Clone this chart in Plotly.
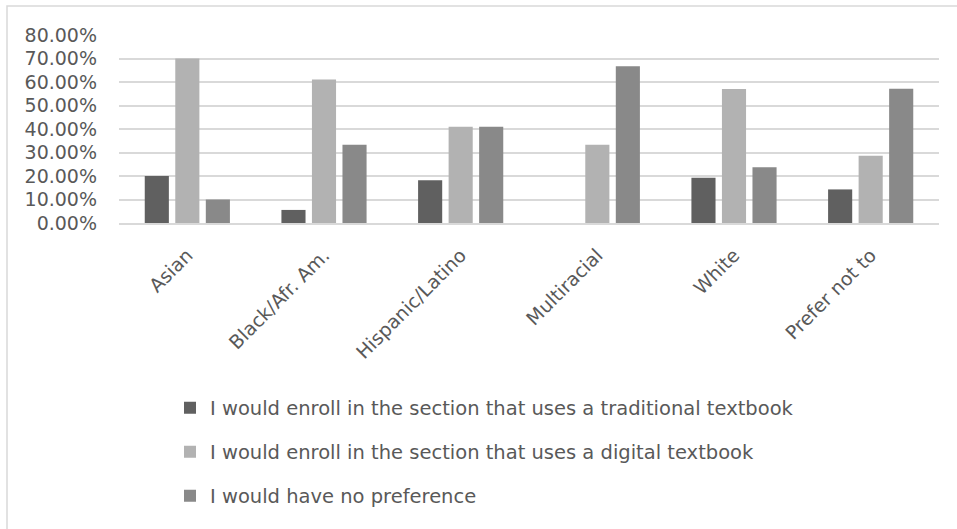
import plotly.graph_objects as go

# Share of respondents in each group choosing each textbook option
categories = ["Asian", "Black/Afr. Am.", "Hispanic/Latino", "Multiracial", "White", "Prefer not to"]
traditional = [20.00, 5.56, 18.18, 0.00, 19.30, 14.29]
digital = [70.00, 61.11, 40.91, 33.33, 57.00, 28.57]
no_preference = [10.00, 33.33, 40.91, 66.67, 23.70, 57.14]

series_names = [
    "I would enroll in the section that uses a traditional textbook",
    "I would enroll in the section that uses a digital textbook",
    "I would have no preference",
]
series_values = [traditional, digital, no_preference]
series_colors = ["#606060", "#b2b2b2", "#898989"]
legend_ids = ["legend", "legend2", "legend3"]

y_ticks = [0, 10, 20, 30, 40, 50, 60, 70, 80]
y_tick_labels = [f"{v:.2f}%" for v in y_ticks]

FONT = "DejaVu Sans"
FONT_SIZE = 19
LEGEND_FONT_SIZE = 19.5
TEXT_COLOR = "#595959"

W, H = 957, 529
M_L, M_R, M_T = 119, 18, 35
PLOT_H = 188.5
M_B = H - M_T - PLOT_H
PLOT_W = W - M_L - M_R

fig = go.Figure()
for name, vals, color, lg in zip(series_names, series_values, series_colors, legend_ids):
    fig.add_trace(go.Bar(
        x=categories,
        y=vals,
        name=name,
        marker=dict(color=color, line=dict(width=0)),
        legend=lg,
    ))

legend_rows_y = [408, 452, 496]  # pixel rows from the top of the page
legend_common = dict(
    xref="container", yref="container",
    xanchor="left", yanchor="middle",
    font=dict(family=FONT, size=LEGEND_FONT_SIZE, color=TEXT_COLOR),
    bgcolor="rgba(0,0,0,0)",
    itemwidth=30,
)

fig.update_layout(
    width=W, height=H,
    margin=dict(l=M_L, r=M_R, t=M_T, b=M_B, autoexpand=False),
    paper_bgcolor="white",
    plot_bgcolor="white",
    barmode="group",
    bargap=0.33,
    bargroupgap=0.21,
    font=dict(family=FONT, color=TEXT_COLOR),
    showlegend=True,
    legend=dict(x=170 / W, y=1 - legend_rows_y[0] / H, **legend_common),
    legend2=dict(x=170 / W, y=1 - legend_rows_y[1] / H, **legend_common),
    legend3=dict(x=170 / W, y=1 - legend_rows_y[2] / H, **legend_common),
    xaxis=dict(
        tickangle=-45,
        tickfont=dict(family=FONT, size=FONT_SIZE, color=TEXT_COLOR),
        showgrid=False,
        showline=True, linecolor="#d9d9d9", linewidth=1.5,
        ticks="",
        ticklabelstandoff=12,
    ),
    yaxis=dict(
        range=[0, 80],
        tickvals=y_ticks,
        ticktext=y_tick_labels,
        tickfont=dict(family=FONT, size=FONT_SIZE, color=TEXT_COLOR),
        showgrid=True, gridcolor="#d9d9d9", gridwidth=1.5,
        zeroline=False,
        showline=False,
        ticks="",
        ticklabelstandoff=21,
    ),
    shapes=[
        # thin frame around the chart area, running off the right and bottom edges
        dict(type="rect", xref="paper", yref="paper",
             x0=(7 - M_L) / PLOT_W, x1=(W + 5 - M_L) / PLOT_W,
             y0=-(H + 5 - M_T - PLOT_H) / PLOT_H, y1=1 + (M_T - 6) / PLOT_H,
             line=dict(color="#d9d9d9", width=1.5), layer="below"),
    ],
)

fig.write_html("out.html")
